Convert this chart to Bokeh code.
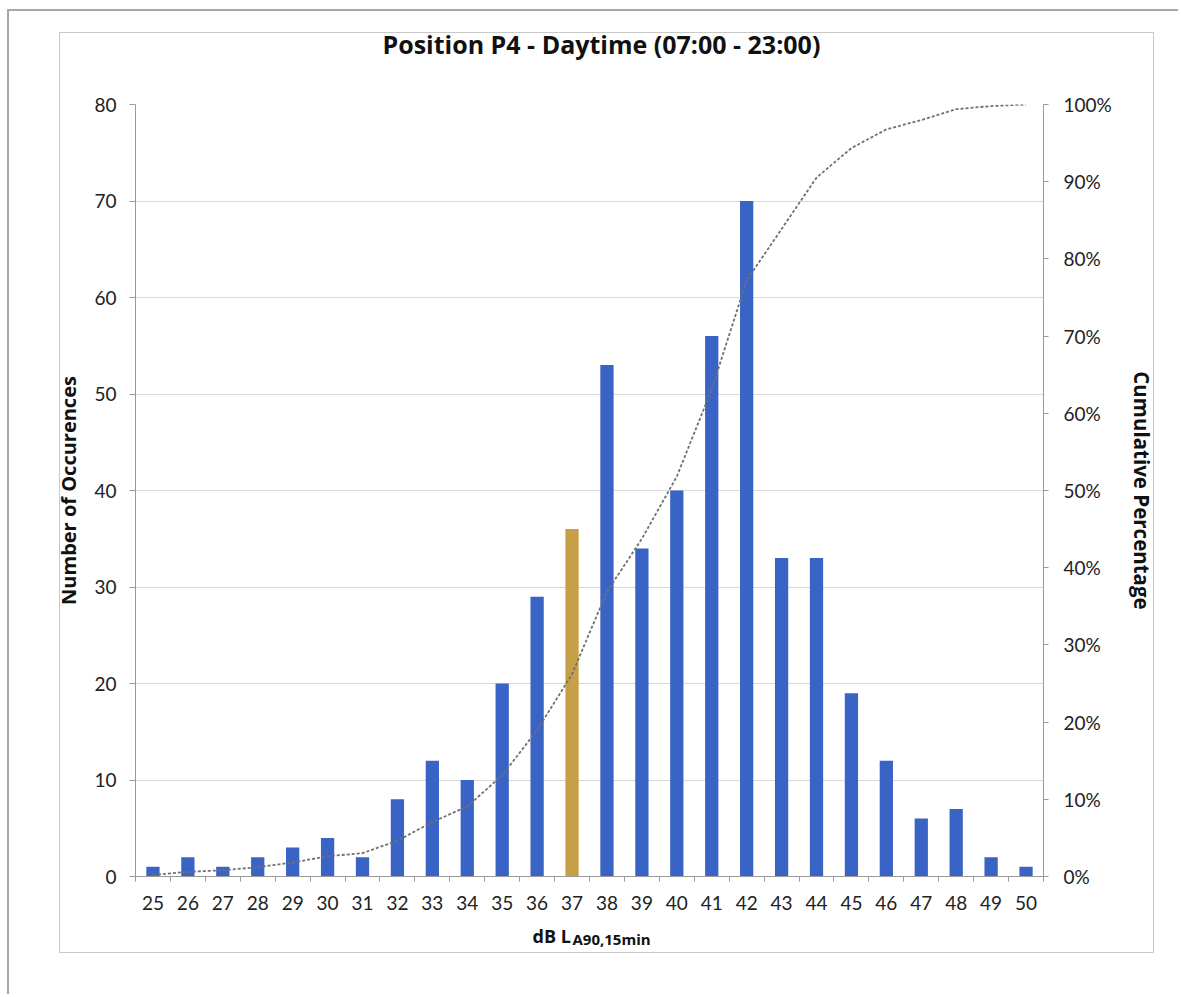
from bokeh.plotting import figure
from bokeh.models import (LinearAxis, Range1d, FixedTicker, NumeralTickFormatter, Title)
from bokeh.embed import file_html
from bokeh.resources import INLINE
import numpy as np

# ---- data ----
db_levels = [25, 26, 27, 28, 29, 30, 31, 32, 33, 34, 35, 36, 37,
             38, 39, 40, 41, 42, 43, 44, 45, 46, 47, 48, 49, 50]
occurrences = [1, 2, 1, 2, 3, 4, 2, 8, 12, 10, 20, 29, 36,
               53, 34, 40, 56, 70, 33, 33, 19, 12, 6, 7, 2, 1]
highlight_level = 37
y_ticks = [0, 10, 20, 30, 40, 50, 60, 70, 80]
pct_ticks = [0.0, 0.1, 0.2, 0.3, 0.4, 0.5, 0.6, 0.7, 0.8, 0.9, 1.0]

title_text = "Position P4 - Daytime (07:00 - 23:00)"
y_label = "Number of Occurences"
y2_label = "Cumulative Percentage"
x_label_main = "dB L"
x_label_sub = "A90,15min"

cum_pct = (np.cumsum(occurrences) / np.sum(occurrences)).tolist()
BLUE = "#3A63C6"
GOLD = "#C6A049"
colors = [GOLD if d == highlight_level else BLUE for d in db_levels]

FONT = "Lato"
TFONT = "Open Sans"
W, H = 1178, 994
FL, FR, FT, FB = 135, 1043, 104, 876   # plot-area edges in pixels

p = figure(width=W, height=H, output_backend="svg", toolbar_location=None,
           x_range=Range1d(24.5, 50.5), y_range=Range1d(0, 80),
           min_border_left=FL, min_border_right=W - FR, min_border_top=FT,
           min_border_bottom=H - FB)
p.outline_line_color = None
p.background_fill_color = None
p.border_fill_color = None

# chart box and page frame drawn as CSS background lines behind the (transparent) canvas
BOX = "#c8c8c8"
PAGE = "#a8a8a8"
p.styles = {
    "background": ", ".join([
        f"linear-gradient({BOX},{BOX}) 59px 32px / 1094px 1px no-repeat",
        f"linear-gradient({BOX},{BOX}) 59px 952px / 1095px 1px no-repeat",
        f"linear-gradient({BOX},{BOX}) 59px 32px / 1px 920px no-repeat",
        f"linear-gradient({BOX},{BOX}) 1153px 32px / 1px 920px no-repeat",
        f"linear-gradient({PAGE},{PAGE}) 7px 9px / 2px 1000px no-repeat",
        f"linear-gradient({PAGE},{PAGE}) 7px 9px / 1200px 2px no-repeat",
        "#ffffff",
    ])
}

# spacer between chart title and plot area
p.add_layout(Title(text=" ", text_font_size="2px", standoff=38), "above")

p.title.text = title_text
p.title.align = "left"
p.title.text_font = TFONT
p.title.text_font_size = "25px"
p.title.text_font_style = "bold"
p.title.text_color = "#111111"
p.title.standoff = 4
p.title.offset = 382 - FL

p.vbar(x=db_levels, top=occurrences, width=0.38, fill_color=colors, line_color=None)

p.extra_y_ranges = {"pct": Range1d(0, 1)}
p.line(db_levels, cum_pct, y_range_name="pct", line_color="#707070",
       line_width=1.8, line_dash="3 2")

# grid
p.xgrid.visible = False
p.ygrid.grid_line_color = "#d9d9d9"
p.ygrid.ticker = FixedTicker(ticks=y_ticks)

# bottom axis
xa = p.xaxis[0]
xa.ticker = FixedTicker(ticks=db_levels,
                        minor_ticks=[d - 0.5 for d in db_levels] + [db_levels[-1] + 0.5])
xa.major_tick_out = 0
xa.major_tick_in = 0
xa.minor_tick_out = 5
xa.minor_tick_in = 0
xa.minor_tick_line_color = "#999999"
xa.axis_line_color = "#999999"
xa.major_label_text_font = FONT
xa.major_label_text_font_size = "19px"
xa.major_label_text_color = "#222222"
xa.major_label_standoff = 14

# left axis
ya = p.yaxis[0]
ya.ticker = FixedTicker(ticks=y_ticks)
ya.major_tick_out = 6
ya.major_tick_in = 0
ya.minor_tick_out = 0
ya.minor_tick_in = 0
ya.axis_line_color = "#999999"
ya.major_tick_line_color = "#999999"
ya.major_label_text_font = FONT
ya.major_label_text_font_size = "19px"
ya.major_label_text_color = "#222222"
ya.major_label_standoff = 13
ya.axis_label = y_label
ya.axis_label_text_font = TFONT
ya.axis_label_text_font_size = "20px"
ya.axis_label_text_font_style = "bold"
ya.axis_label_text_color = "#111111"
ya.axis_label_standoff = 9

# right axis
ra = LinearAxis(y_range_name="pct", ticker=FixedTicker(ticks=pct_ticks),
                formatter=NumeralTickFormatter(format="0%"))
ra.major_tick_out = 5
ra.major_tick_in = 0
ra.minor_tick_out = 0
ra.minor_tick_in = 0
ra.axis_line_color = "#999999"
ra.major_tick_line_color = "#999999"
ra.major_label_text_font = FONT
ra.major_label_text_font_size = "19px"
ra.major_label_text_color = "#222222"
ra.major_label_standoff = 15
ra.axis_label = y2_label
ra.axis_label_text_font = TFONT
ra.axis_label_text_font_size = "20.5px"
ra.axis_label_text_font_style = "bold"
ra.axis_label_text_color = "#111111"
ra.axis_label_standoff = 13
p.add_layout(ra, "right")

# x axis label "dB L" with subscript "A90,15min" as two titles below the axis
t_main = Title(text=x_label_main, align="left", offset=532 - FL, standoff=18,
               text_font=TFONT, text_font_size="18px", text_font_style="bold",
               text_color="#111111")
t_sub = Title(text=x_label_sub, align="left", vertical_align="top", offset=572 - FL,
              standoff=-55, text_font=TFONT, text_font_size="15px",
              text_font_style="bold", text_color="#111111")
p.add_layout(t_main, "below")
p.add_layout(t_sub, "below")

open("out.html", "w").write(file_html(p, INLINE))
